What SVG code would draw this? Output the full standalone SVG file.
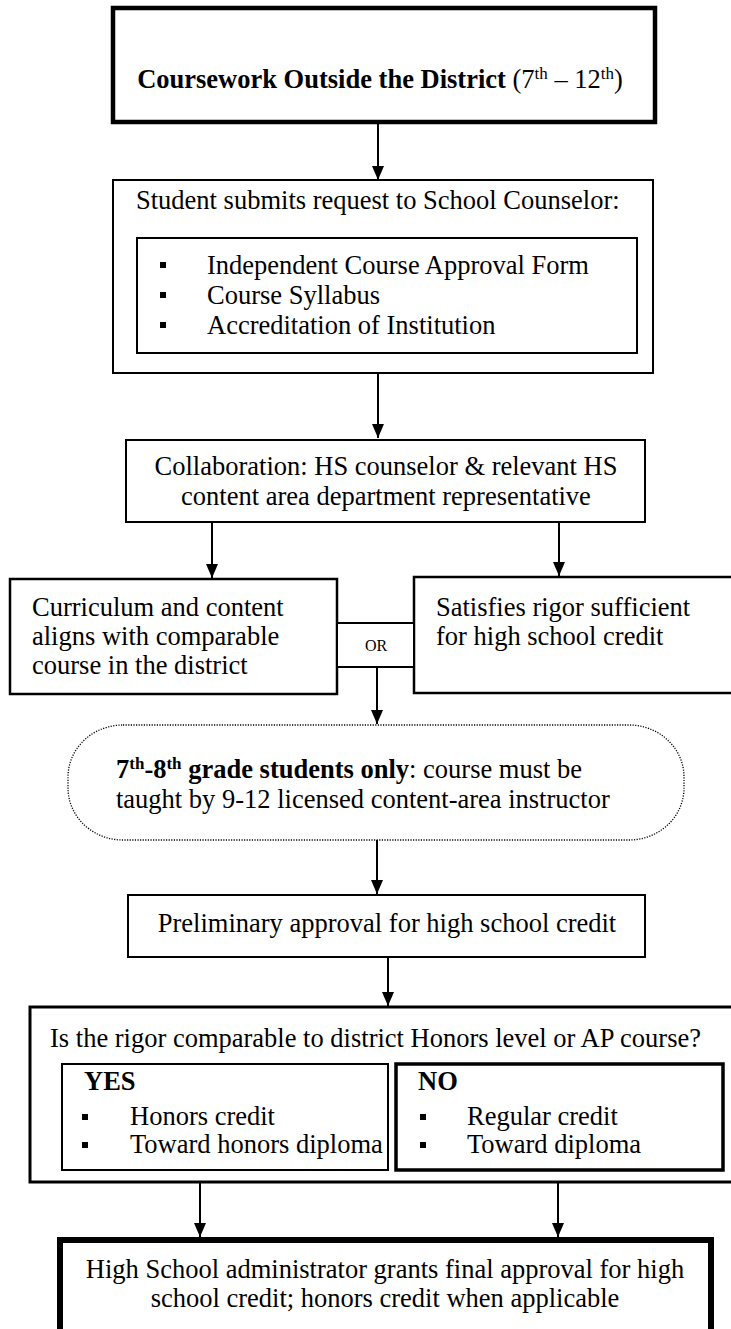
<svg xmlns="http://www.w3.org/2000/svg" width="731" height="1329" viewBox="0 0 731 1329">
<defs>
<style>
.t{font-family:"Liberation Serif","Times New Roman",serif;font-size:26.5px;fill:#000}
.b{font-weight:bold}
.sup{font-size:17px}
.box{fill:#fff;stroke:#000;stroke-width:2}
.c{stroke:#000;stroke-width:2;fill:none}
.bul{fill:#000}
</style>
<marker id="ah" markerUnits="userSpaceOnUse" markerWidth="14" markerHeight="12" refX="14" refY="6" orient="auto">
<path d="M0,0 L14,6 L0,12 z" fill="#000"/>
</marker>
</defs>
<rect width="731" height="1329" fill="#fff"/>

<g id="n-title">
<rect x="113" y="8" width="542" height="114" class="box" style="stroke-width:4.5"/>
<text x="380" y="88" text-anchor="middle" class="t"><tspan class="b">Coursework Outside the District</tspan> (7<tspan class="sup" dy="-9">th</tspan><tspan dy="9"> – 12</tspan><tspan class="sup" dy="-9">th</tspan><tspan dy="9">)</tspan></text>
</g>

<g id="n-submit">
<rect x="113" y="180" width="540" height="193" class="box"/>
<text x="136" y="209" class="t">Student submits request to School Counselor:</text>
<rect x="137" y="238" width="500" height="115" class="box"/>
<rect x="160" y="262" width="6" height="6" class="bul"/>
<rect x="160" y="292" width="6" height="6" class="bul"/>
<rect x="160" y="322" width="6" height="6" class="bul"/>
<text x="207" y="274" class="t">Independent Course Approval Form</text>
<text x="207" y="304" class="t">Course Syllabus</text>
<text x="207" y="334" class="t">Accreditation of Institution</text>
</g>

<g id="n-collab">
<rect x="126" y="440" width="519" height="82" class="box"/>
<text x="386" y="475" text-anchor="middle" class="t">Collaboration: HS counselor &amp; relevant HS</text>
<text x="386" y="505" text-anchor="middle" class="t">content area department representative</text>
</g>

<g id="n-curriculum">
<rect x="10" y="579" width="327" height="115" class="box" style="stroke-width:2.5"/>
<text x="32" y="616" class="t">Curriculum and content</text>
<text x="32" y="645" class="t">aligns with comparable</text>
<text x="32" y="674" class="t">course in the district</text>
</g>

<g id="n-rigor">
<rect x="414" y="577" width="330" height="116" class="box" style="stroke-width:2.5"/>
<text x="436" y="616" class="t">Satisfies rigor sufficient</text>
<text x="436" y="645" class="t">for high school credit</text>
</g>

<g id="n-or">
<rect x="337" y="623" width="77" height="44" class="box"/>
<text x="376" y="651" text-anchor="middle" class="t" style="font-size:16px">OR</text>
</g>

<g id="n-grade">
<rect x="68" y="725" width="616" height="115" rx="55" ry="52" fill="#fff" stroke="#000" stroke-width="1.3" stroke-dasharray="1.2,1.4"/>
<text x="116" y="778" class="t"><tspan class="b">7</tspan><tspan class="b sup" dy="-9">th</tspan><tspan class="b" dy="9">-8</tspan><tspan class="b sup" dy="-9">th</tspan><tspan class="b" dy="9"> grade students only</tspan>: course must be</text>
<text x="116" y="808" class="t">taught by 9-12 licensed content-area instructor</text>
</g>

<g id="n-prelim">
<rect x="128" y="895" width="517" height="62" class="box"/>
<text x="387" y="932" text-anchor="middle" class="t">Preliminary approval for high school credit</text>
</g>

<g id="n-honors">
<rect x="30" y="1007" width="715" height="175" class="box" style="stroke-width:3"/>
<text x="50" y="1047" class="t">Is the rigor comparable to district Honors level or AP course?</text>
<rect x="62" y="1064" width="326" height="106" class="box"/>
<text x="84" y="1090" class="t b">YES</text>
<rect x="82" y="1114" width="6" height="6" class="bul"/>
<rect x="82" y="1142" width="6" height="6" class="bul"/>
<text x="130" y="1125" class="t">Honors credit</text>
<text x="130" y="1153" class="t">Toward honors diploma</text>
<rect x="396" y="1064" width="327" height="106" class="box" style="stroke-width:3.5"/>
<text x="418" y="1090" class="t b">NO</text>
<rect x="420" y="1114" width="6" height="6" class="bul"/>
<rect x="420" y="1142" width="6" height="6" class="bul"/>
<text x="467" y="1125" class="t">Regular credit</text>
<text x="467" y="1153" class="t">Toward diploma</text>
</g>

<g id="n-final">
<rect x="60" y="1240" width="651" height="110" class="box" style="stroke-width:6"/>
<text x="385" y="1278" text-anchor="middle" class="t">High School administrator grants final approval for high</text>
<text x="385" y="1307" text-anchor="middle" class="t">school credit; honors credit when applicable</text>
</g>

<g id="connectors">
<line x1="378" y1="122" x2="378" y2="180" class="c" marker-end="url(#ah)"/>
<line x1="378" y1="373" x2="378" y2="438" class="c" marker-end="url(#ah)"/>
<line x1="212" y1="522" x2="212" y2="578" class="c" marker-end="url(#ah)"/>
<line x1="559" y1="522" x2="559" y2="576" class="c" marker-end="url(#ah)"/>
<line x1="377" y1="667" x2="377" y2="724" class="c" marker-end="url(#ah)"/>
<line x1="377" y1="840" x2="377" y2="894" class="c" marker-end="url(#ah)"/>
<line x1="388" y1="957" x2="388" y2="1006" class="c" marker-end="url(#ah)"/>
<line x1="200" y1="1182" x2="200" y2="1237" class="c" marker-end="url(#ah)"/>
<line x1="558" y1="1182" x2="558" y2="1237" class="c" marker-end="url(#ah)"/>
</g>
</svg>
